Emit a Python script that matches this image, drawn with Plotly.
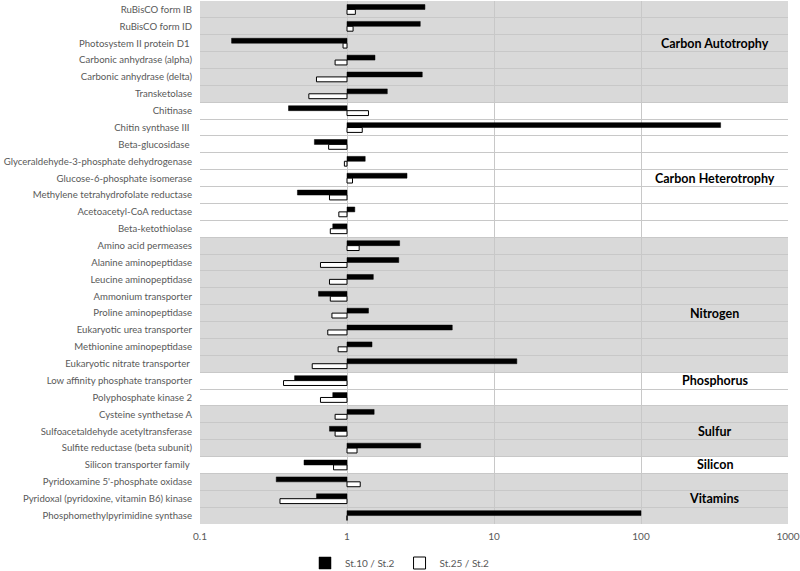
import plotly.graph_objects as go

categories = [
    "RuBisCO form IB", "RuBisCO form ID", "Photosystem II protein D1 ",
    "Carbonic anhydrase (alpha)", "Carbonic anhydrase (delta)", "Transketolase",
    "Chitinase", "Chitin synthase III ", "Beta-glucosidase ",
    "Glyceraldehyde-3-phosphate dehydrogenase", "Glucose-6-phosphate isomerase",
    "Methylene tetrahydrofolate reductase", "Acetoacetyl-CoA reductase",
    "Beta-ketothiolase", "Amino acid permeases", "Alanine aminopeptidase",
    "Leucine aminopeptidase", "Ammonium transporter", "Proline aminopeptidase",
    "Eukaryotic urea transporter", "Methionine aminopeptidase",
    "Eukaryotic nitrate transporter ", "Low affinity phosphate transporter",
    "Polyphosphate kinase 2", "Cysteine synthetase A",
    "Sulfoacetaldehyde acetyltransferase", "Sulfite reductase (beta subunit)",
    "Silicon transporter family ", "Pyridoxamine 5'-phosphate oxidase",
    "Pyridoxal (pyridoxine, vitamin B6) kinase", "Phosphomethylpyrimidine synthase",
]

st10_st2 = [3.39, 3.15, 0.164, 1.55, 3.25, 1.88,
            0.40, 348, 0.60, 1.33, 2.56, 0.46, 1.13, 0.80,
            2.28, 2.25, 1.51, 0.64, 1.40, 5.2, 1.48, 14.3,
            0.44, 0.80, 1.53, 0.76, 3.17, 0.51, 0.33, 0.62, 100]

st25_st2 = [1.14, 1.10, 0.94, 0.83, 0.62, 0.55,
            1.40, 1.27, 0.75, 0.96, 1.09, 0.76, 0.88, 0.77,
            1.21, 0.66, 0.76, 0.77, 0.79, 0.74, 0.87, 0.58,
            0.37, 0.66, 0.83, 0.83, 1.17, 0.81, 1.23, 0.35, 1.0]

group_names = ["Carbon Autotrophy", "Carbon Heterotrophy", "Nitrogen", "Phosphorus",
               "Sulfur", "Silicon", "Vitamins"]
group_first = [0, 6, 14, 22, 24, 27, 28]
group_last = [5, 13, 21, 23, 26, 27, 30]
group_label_row = [2, 10, 18, 22, 25, 27, 29]
group_shaded = [True, False, True, False, True, False, True]

x_tickvals = [0.1, 1, 10, 100, 1000]
x_ticktext = ["0.1", "1", "10", "100", "1000"]

BASE = 1.0
FONT = "Lato, 'Open Sans', sans-serif"
label_font = dict(family=FONT, size=9.6, color="#595959")

W, H = 800, 571
M = dict(l=200, r=12, t=1, b=47)

fig = go.Figure()
fig.add_trace(go.Bar(
    name="St.10 / St.2", y=categories, x=[v - BASE for v in st10_st2], base=BASE,
    orientation="h", marker=dict(color="#000000", line=dict(color="#000000", width=0.5)),
))
fig.add_trace(go.Bar(
    name="St.25 / St.2", y=categories, x=[v - BASE for v in st25_st2], base=BASE,
    orientation="h", marker=dict(color="#ffffff", line=dict(color="#000000", width=1)),
))

shapes = []
annotations = []
for name, a, b, lr, sh in zip(group_names, group_first, group_last, group_label_row, group_shaded):
    if sh:
        shapes.append(dict(type="rect", xref="paper", yref="y", x0=0, x1=1,
                           y0=a - 0.5, y1=b + 0.5, fillcolor="#d9d9d9",
                           line=dict(width=0), layer="below"))
    annotations.append(dict(x=2.5, y=categories[lr], xref="x", yref="y", text="<b>%s</b>" % name,
                            showarrow=False, xanchor="center", yanchor="middle",
                            font=dict(family=FONT, size=12.5, color="#000000")))

fig.update_layout(
    width=W, height=H,
    margin=M,
    plot_bgcolor="#ffffff", paper_bgcolor="#ffffff",
    barmode="group", bargap=0.42, bargroupgap=0,
    shapes=shapes, annotations=annotations,
    showlegend=True,
    legend=dict(orientation="h", x=0.5, xanchor="center", xref="container",
                yref="container", y=1 - 563 / H, yanchor="middle",
                font=dict(family=FONT, size=10, color="#595959"), itemwidth=30,
                traceorder="normal", tracegroupgap=0),
)
fig.update_xaxes(type="log", range=[-1, 3], tickvals=x_tickvals, ticktext=x_ticktext,
                 showgrid=True, gridcolor="#c8c8c8", gridwidth=1, zeroline=False,
                 showline=False, tickfont=dict(family=FONT, size=10, color="#595959"),
                 ticks="", automargin=False, ticklabelstandoff=5)
fig.update_yaxes(type="category", categoryorder="array", categoryarray=categories,
                 autorange="reversed", tickson="boundaries", showgrid=True,
                 gridcolor="#c8c8c8", gridwidth=1, ticks="", tickfont=label_font,
                 showline=False, zeroline=False, automargin=False, ticklabelstandoff=7)

fig.write_html("out.html", config={"displayModeBar": False},
               post_script="document.body.style.margin='0';")
